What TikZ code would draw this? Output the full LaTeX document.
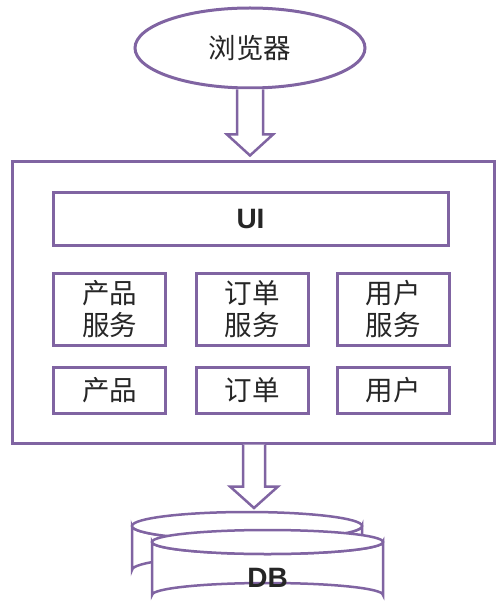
\documentclass[tikz,border=0pt]{standalone}
\usepackage{fontspec}
\setmainfont{Liberation Sans}
\newfontfamily\cjk{Noto Sans CJK SC}
\usetikzlibrary{shapes.geometric,calc}
\definecolor{pline}{HTML}{8064A2}
\definecolor{ptext}{HTML}{262626}
\tikzset{
  box/.style={draw=pline, line width=3pt, fill=white, inner sep=0pt, align=center,
    text=ptext, font=\cjk\fontsize{27.5}{32}\selectfont},
  blockarrow/.style={draw=pline, line width=2.5pt, fill=white, line join=miter},
  cyl/.style={draw=pline, line width=2.5pt, fill=white},
  bold/.style={font=\bfseries\fontsize{28}{30}\selectfont, text=ptext}
}
\begin{document}
\begin{tikzpicture}[x=1pt,y=-1pt]
\useasboundingbox (0,0) rectangle (496,609);
% browser
\node[box, ellipse, minimum width=230pt, minimum height=80pt] (browser) at (250,48) {浏览器};
% outer container
\node[box, minimum width=482pt, minimum height=281pt] (outer) at (253,302.5) {};
% UI
\node[box, minimum width=395pt, minimum height=52pt, font=\bfseries\fontsize{28}{30}\selectfont] (ui) at (250.5,219) {UI};
% services
\node[box, minimum width=112pt, minimum height=72pt] (ps) at (109.5,309) {产品\\服务};
\node[box, minimum width=112pt, minimum height=72pt] (os) at (252,309) {订单\\服务};
\node[box, minimum width=112pt, minimum height=72pt] (us) at (393,309) {用户\\服务};
% data
\node[box, minimum width=112pt, minimum height=46pt] (pd) at (109.5,390) {产品};
\node[box, minimum width=112pt, minimum height=46pt] (od) at (252,390) {订单};
\node[box, minimum width=112pt, minimum height=46pt] (ud) at (393,390) {用户};
% arrow browser -> outer
\draw[blockarrow] ($(browser.south)+(-13,0)$) -- ($(browser.south)+(-13,45)$) -- ($(browser.south)+(-23,45)$)
  -- ($(outer.north)+(-3,-5)$) -- ($(browser.south)+(23,45)$) -- ($(browser.south)+(13,45)$)
  -- ($(browser.south)+(13,0)$);
% DB back cylinder
\draw[cyl] (132,526) -- (132,570) arc[start angle=180,end angle=360,x radius=115,y radius=14]
  -- (362,526) arc[start angle=0,end angle=180,x radius=115,y radius=14] -- cycle;
\draw[cyl] (247,526) ellipse[x radius=115,y radius=14];
% DB front cylinder
\draw[cyl] (152,542) -- (152,595) arc[start angle=180,end angle=360,x radius=115.5,y radius=12]
  -- (383,542) arc[start angle=0,end angle=180,x radius=115.5,y radius=12] -- cycle;
\draw[cyl] (267.5,542) ellipse[x radius=115.5,y radius=12];
\node[bold] (db) at (267.5,578) {DB};
\coordinate (dbtop) at (254,508);
% arrow outer -> DB
\draw[blockarrow] ($(outer.south)+(-10,0)$) -- ($(outer.south)+(-10,42)$) -- ($(outer.south)+(-23,42)$)
  -- (dbtop) -- ($(outer.south)+(25,42)$) -- ($(outer.south)+(12,42)$) -- ($(outer.south)+(12,0)$);
\end{tikzpicture}
\end{document}
